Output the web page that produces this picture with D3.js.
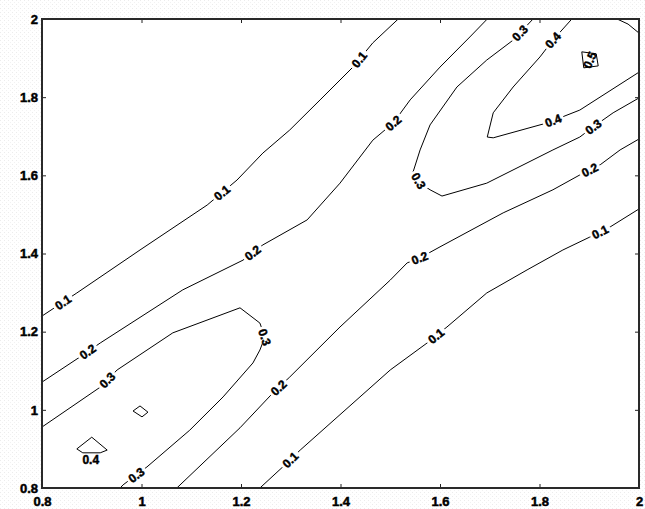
<!DOCTYPE html>
<html>
<head>
<meta charset="utf-8">
<script src="https://cdn.jsdelivr.net/npm/d3@7"></script>
<style>
  html, body { margin: 0; padding: 0; background: #fff; }
  svg { display: block; }
  text { font-family: "Liberation Sans", Arial, sans-serif; font-weight: bold; fill: #000; }
</style>
</head>
<body>
<svg id="chart" width="645" height="509"></svg>
<script>
// Axis ticks
const xTicks = [0.8, 1, 1.2, 1.4, 1.6, 1.8, 2];
const yTicks = [0.8, 1, 1.2, 1.4, 1.6, 1.8, 2];

// Contour polylines, points are [x, y] in data units
const c01West = [[0.8,1.240],[0.870,1.299],[0.997,1.409],[1.132,1.524],[1.192,1.588],[1.244,1.657],
  [1.298,1.716],[1.359,1.793],[1.425,1.877],[1.465,1.939],[1.516,2.0]];
const c01East = [[1.238,0.8],[1.284,0.854],[1.319,0.897],[1.500,1.102],[1.574,1.171],[1.614,1.212],
  [1.694,1.299],[1.775,1.358],[1.847,1.409],[1.901,1.442],[1.942,1.468],[2.0,1.514]];
const c02West = [[0.8,1.071],[0.876,1.135],[0.917,1.171],[1.083,1.307],[1.204,1.383],[1.244,1.422],
  [1.333,1.486],[1.399,1.580],[1.465,1.690],[1.506,1.734],[1.540,1.793],[1.600,1.877],[1.660,1.954],[1.695,2.0]];
const c02East = [[1.071,0.8],[1.198,0.954],[1.264,1.043],[1.298,1.084],[1.399,1.212],[1.500,1.332],
  [1.534,1.376],[1.560,1.389],[1.600,1.417],[1.727,1.504],[1.827,1.563],[1.881,1.601],[1.922,1.627],
  [1.962,1.665],[2.0,1.693]];
const c03West = [[0.8,0.956],[0.917,1.058],[0.951,1.102],[1.063,1.197],[1.198,1.261],[1.238,1.222],
  [1.248,1.186],[1.238,1.153],[1.224,1.120],[1.164,1.033],[1.097,0.948],[1.011,0.854],[0.963,0.808],[0.957,0.8]];
const c03North = [[1.787,2.0],[1.747,1.946],[1.694,1.895],[1.634,1.826],[1.580,1.729],[1.560,1.665],
  [1.546,1.609],[1.560,1.580],[1.580,1.563],[1.604,1.547],[1.694,1.580],[1.827,1.665],[1.881,1.698],
  [1.908,1.724],[1.948,1.760],[2.0,1.798]];
const c04North = [[1.865,2.0],[1.827,1.946],[1.801,1.903],[1.747,1.826],[1.707,1.760],[1.695,1.698],
  [1.707,1.696],[1.815,1.734],[1.881,1.767],[2.0,1.864]];
const c04LoopA = [[0.983,0.997],[0.997,1.010],[1.013,0.994],[1.001,0.982]];
const c04LoopB = [[0.870,0.900],[0.900,0.930],[0.931,0.897],[0.917,0.890],[0.882,0.890]];
const c05Loop = [[1.885,1.916],[1.914,1.911],[1.918,1.880],[1.889,1.875]];
const c05Corner = [[1.956,2.0],[1.978,1.987],[2.0,1.964]];

// Inline label anchors, [x, y] in data units
const c01WestLabels = [[0.846,1.268],[1.162,1.555],[1.439,1.895]];
const c01EastLabels = [[1.303,0.867],[1.594,1.186],[1.922,1.455]];
const c02WestLabels = [[0.892,1.148],[1.224,1.401],[1.506,1.734]];
const c02EastLabels = [[1.278,1.053],[1.560,1.386],[1.901,1.614]];
const c03WestLabels = [[0.931,1.076],[1.248,1.186],[0.991,0.831]];
const c03NorthLabels = [[1.761,1.964],[1.556,1.585],[1.908,1.724]];
const c04NorthLabels = [[1.827,1.946],[1.827,1.742]];

// Labels set beside their contour rather than on it: [x, y, level, angle]
const looseLabels = [[0.898,0.872,0.4,0],[1.901,1.895,0.5,-65]];

const contours = [
  { level: 0.1, pts: c01West, labels: c01WestLabels },
  { level: 0.1, pts: c01East, labels: c01EastLabels },
  { level: 0.2, pts: c02West, labels: c02WestLabels },
  { level: 0.2, pts: c02East, labels: c02EastLabels },
  { level: 0.3, pts: c03West, labels: c03WestLabels },
  { level: 0.3, pts: c03North, labels: c03NorthLabels },
  { level: 0.4, pts: c04North, labels: c04NorthLabels },
  { level: 0.4, pts: c04LoopA, labels: [], closed: true },
  { level: 0.4, pts: c04LoopB, labels: [], closed: true },
  { level: 0.5, pts: c05Loop, labels: [], closed: true },
  { level: 0.5, pts: c05Corner, labels: [] }
];

const W = 645, H = 509;
const plot = { left: 42, right: 639, top: 19, bottom: 488 };

const svg = d3.select("#chart");

// light dithered backdrop around the axes
const defs = svg.append("defs");
const pat = defs.append("pattern").attr("id", "grain")
  .attr("width", 4).attr("height", 4).attr("patternUnits", "userSpaceOnUse");
pat.append("rect").attr("width", 4).attr("height", 4).attr("fill", "#fff");
pat.append("rect").attr("x", 0).attr("y", 0).attr("width", 1).attr("height", 1).attr("fill", "#ececec");
pat.append("rect").attr("x", 2).attr("y", 2).attr("width", 1).attr("height", 1).attr("fill", "#f2f2f2");
svg.append("rect").attr("width", W).attr("height", H).attr("fill", "url(#grain)");

defs.append("clipPath").attr("id", "plotClip").append("rect")
  .attr("x", plot.left).attr("y", plot.top)
  .attr("width", plot.right - plot.left).attr("height", plot.bottom - plot.top);

const x = d3.scaleLinear().domain([0.8, 2]).range([plot.left, plot.right]);
const y = d3.scaleLinear().domain([0.8, 2]).range([plot.bottom, plot.top]);

svg.append("rect")
  .attr("x", plot.left).attr("y", plot.top)
  .attr("width", plot.right - plot.left).attr("height", plot.bottom - plot.top)
  .attr("fill", "#fff");

// contour lines
const gLines = svg.append("g").attr("clip-path", "url(#plotClip)");
const lineOpen = d3.line().x(d => x(d[0])).y(d => y(d[1]));
const lineClosed = d3.line().x(d => x(d[0])).y(d => y(d[1])).curve(d3.curveLinearClosed);

contours.forEach(c => {
  gLines.append("path")
    .attr("d", (c.closed ? lineClosed : lineOpen)(c.pts))
    .attr("fill", "none")
    .attr("stroke", "#000")
    .attr("stroke-width", 1);
});

// inline labels: snapped onto the nearest segment, rotated along it, with a gap in the line
const gLabels = svg.append("g");
const fmt = d => String(d);

function placeOnLine(pts, at) {
  const px = pts.map(p => [x(p[0]), y(p[1])]);
  const q = [x(at[0]), y(at[1])];
  let best = null;
  for (let i = 0; i < px.length - 1; i++) {
    const a = px[i], b = px[i + 1];
    const dx = b[0] - a[0], dy = b[1] - a[1];
    const len2 = dx * dx + dy * dy || 1;
    let t = ((q[0] - a[0]) * dx + (q[1] - a[1]) * dy) / len2;
    t = Math.max(0, Math.min(1, t));
    const p = [a[0] + t * dx, a[1] + t * dy];
    const d = Math.hypot(p[0] - q[0], p[1] - q[1]);
    if (!best || d < best.d) best = { d, p, ang: Math.atan2(dy, dx) * 180 / Math.PI };
  }
  let ang = best.ang;
  if (ang > 90) ang -= 180;
  if (ang < -90) ang += 180;
  return { cx: best.p[0], cy: best.p[1], ang };
}

function drawLabel(cx, cy, ang, level, gap) {
  const g = gLabels.append("g").attr("transform", `translate(${cx},${cy}) rotate(${ang})`);
  const bg = g.append("rect").attr("fill", "#fff");
  const t = g.append("text")
    .attr("text-anchor", "middle")
    .attr("dy", "0.36em")
    .attr("font-size", 12)
    .attr("stroke", "#000")
    .attr("stroke-width", 0.45)
    .text(fmt(level));
  const w = t.node().getComputedTextLength();
  if (gap) {
    bg.attr("x", -w / 2 - 2.5).attr("y", -4.5).attr("width", w + 5).attr("height", 9);
  } else {
    bg.remove();
  }
}

contours.forEach(c => {
  c.labels.forEach(at => {
    const pl = placeOnLine(c.pts, at);
    drawLabel(pl.cx, pl.cy, pl.ang, c.level, true);
  });
});
looseLabels.forEach(l => drawLabel(x(l[0]), y(l[1]), l[3], l[2], false));

// axes: labelled on bottom and left, ticks pointing inward on all four sides
const tickFmt = d => String(d);
const axisStyle = g => {
  g.select(".domain").remove();
  g.selectAll(".tick line").attr("stroke", "#222").attr("stroke-width", 1);
  g.selectAll(".tick text").attr("font-size", 13).attr("font-weight", "bold")
    .attr("font-family", "'Liberation Sans', Arial, sans-serif").attr("fill", "#000")
    .attr("stroke", "#000").attr("stroke-width", 0.5);
};

svg.append("g").attr("transform", `translate(0,${plot.bottom})`)
  .call(d3.axisBottom(x).tickValues(xTicks).tickSize(-4).tickPadding(9).tickFormat(tickFmt))
  .call(axisStyle);
svg.append("g").attr("transform", `translate(${plot.left},0)`)
  .call(d3.axisLeft(y).tickValues(yTicks).tickSize(-4).tickPadding(4).tickFormat(tickFmt))
  .call(axisStyle);
svg.append("g").attr("transform", `translate(0,${plot.top})`)
  .call(d3.axisTop(x).tickValues(xTicks).tickSize(-4).tickFormat(""))
  .call(axisStyle);
svg.append("g").attr("transform", `translate(${plot.right},0)`)
  .call(d3.axisRight(y).tickValues(yTicks).tickSize(-4).tickFormat(""))
  .call(axisStyle);

// frame
svg.append("rect")
  .attr("x", plot.left).attr("y", plot.top)
  .attr("width", plot.right - plot.left).attr("height", plot.bottom - plot.top)
  .attr("fill", "none").attr("stroke", "#2a2a2a").attr("stroke-width", 2);
</script>
</body>
</html>
